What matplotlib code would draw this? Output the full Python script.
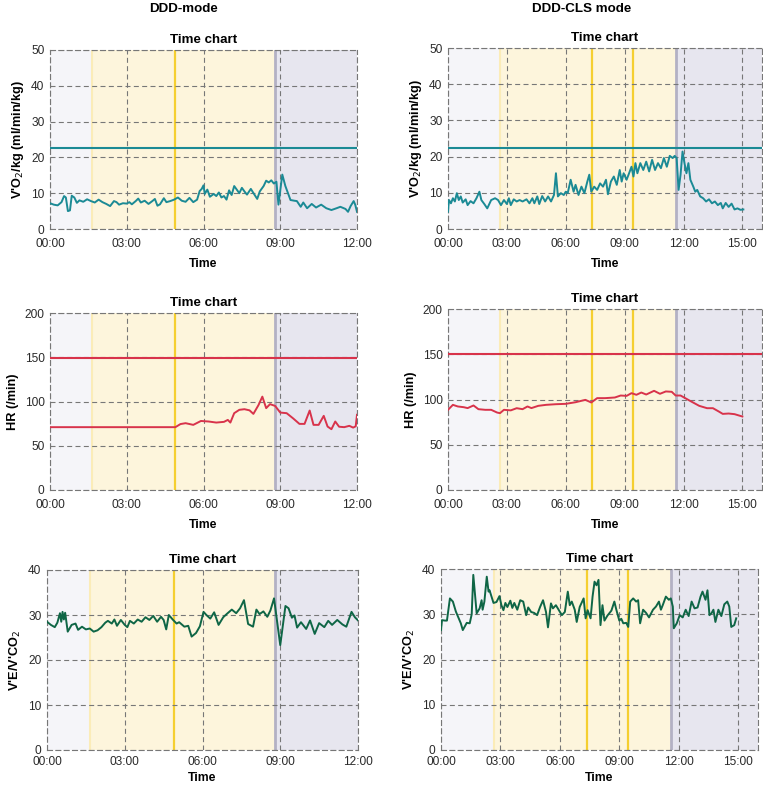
import matplotlib.pyplot as plt

plt.rcParams['font.family'] = ['Liberation Sans', 'DejaVu Sans']

# ---- data (time in minutes) ----
# DDD-mode
vo2_l_t = [0.0, 0.15, 0.3, 0.45, 0.55, 0.62, 0.7, 0.78, 0.85, 0.95, 1.05, 1.15, 1.3, 1.45, 1.6, 1.75,
           1.9, 2.05, 2.2, 2.35, 2.5, 2.6, 2.7, 2.85, 3.0, 3.1, 3.2, 3.35, 3.45, 3.55, 3.7, 3.85, 4.0,
           4.1, 4.2, 4.3, 4.45, 4.55, 4.7, 4.85, 5.0, 5.15, 5.3, 5.45, 5.6, 5.75, 5.85, 5.93, 6.0,
           6.05, 6.15, 6.25, 6.4, 6.5, 6.6, 6.7, 6.8, 6.9, 7.0, 7.1, 7.2, 7.3, 7.4, 7.5, 7.6, 7.7,
           7.85, 8.0, 8.1, 8.2, 8.35, 8.45, 8.55, 8.65, 8.75, 8.85, 8.93, 9.08, 9.2, 9.4, 9.55, 9.65,
           9.8, 9.9, 10.05, 10.23, 10.4, 10.6, 10.8, 11.0, 11.2, 11.35, 11.55, 11.65, 11.75, 11.87,
           11.93, 12.0]
vo2_l_v = [7.2, 6.8, 6.6, 7.5, 9.2, 8.8, 5.0, 5.2, 9.3, 8.8, 7.3, 8.0, 7.6, 8.3, 7.8, 7.4,
           8.2, 7.5, 7.0, 6.4, 7.8, 7.5, 6.8, 7.2, 7.1, 7.5, 6.9, 7.8, 8.5, 7.4, 7.9, 7.0, 7.8,
           8.4, 6.5, 6.9, 8.6, 7.5, 7.8, 8.2, 8.8, 7.9, 7.6, 8.7, 7.5, 8.2, 10.6, 11.2, 12.2,
           9.8, 11.0, 9.0, 9.8, 9.2, 10.2, 8.8, 9.2, 8.2, 10.8, 9.5, 12.0, 11.0, 10.0, 11.5, 10.5, 9.6,
           11.2, 9.5, 8.4, 10.5, 12.0, 13.5, 13.0, 13.6, 12.7, 13.2, 6.8, 15.2, 12.0, 8.1, 7.9, 7.8,
           6.2, 7.4, 5.8, 7.0, 6.0, 6.8, 5.8, 5.3, 5.8, 6.2, 5.6, 4.8, 6.4, 7.8,
           6.8, 4.8]

hr_l_t = [0.0, 4.9, 5.1, 5.3, 5.6, 5.9, 6.2, 6.5, 6.8, 6.95, 7.05, 7.2, 7.4, 7.6, 7.8, 7.95, 8.15,
          8.3, 8.45, 8.6, 8.8, 9.0, 9.25, 9.5, 9.75, 9.95, 10.15, 10.3, 10.5, 10.7, 10.85, 11.0,
          11.15, 11.3, 11.5, 11.7, 11.85, 11.95, 12.0]
hr_l_v = [71, 71, 74.5, 75.5, 73.6, 78, 77.4, 76.2, 77, 79.2, 76.2, 86.8, 90.6, 91.3, 90, 86, 96,
          105.5, 92.5, 97, 95, 87.5, 86.8, 81, 74.7, 74.7, 89.8, 73.6, 73.6, 83.8, 71.7, 68.7,
          77.4, 71.5, 71, 72.5, 70.5, 72, 85]

ve_l_t = [0.0, 0.15, 0.3, 0.4, 0.5, 0.55, 0.6, 0.65, 0.7, 0.8, 0.95, 1.1, 1.2, 1.35, 1.5, 1.65, 1.8,
          1.95, 2.1, 2.25, 2.35, 2.5, 2.6, 2.7, 2.85, 3.0, 3.1, 3.2, 3.35, 3.5, 3.65, 3.8, 3.95, 4.1,
          4.25, 4.4, 4.5, 4.6, 4.7, 4.85, 5.0, 5.1, 5.3, 5.45, 5.58, 5.75, 5.9, 6.04, 6.15, 6.3,
          6.45, 6.62, 6.8, 6.95, 7.13, 7.3, 7.45, 7.6, 7.76, 7.95, 8.08, 8.2, 8.35, 8.5, 8.62, 8.76,
          9.0, 9.2, 9.32, 9.45, 9.55, 9.65, 9.8, 10.0, 10.15, 10.33, 10.5, 10.7, 10.85, 11.0, 11.2,
          11.4, 11.55, 11.75, 11.88, 12.0]
ve_l_v = [28.5, 27.8, 27.3, 28.3, 30.4, 28.5, 30.7, 29.0, 30.5, 26.3, 27.8, 28.1, 26.7, 27.4, 26.8,
          27.0, 26.3, 26.6, 27.3, 28.3, 28.7, 28.1, 29.0, 27.6, 28.9, 27.8, 27.3, 28.7, 28.1, 29.0,
          28.5, 29.5, 28.9, 29.8, 28.5, 29.6, 28.9, 26.8, 30.0, 29.0, 28.1, 28.4, 27.4, 27.6, 25.2,
          26.0, 27.5, 30.7, 30.0, 29.2, 30.6, 27.8, 29.5, 30.3, 31.2, 30.4, 31.5, 33.3, 28.0, 27.4,
          31.2, 30.2, 30.8, 29.6, 31.0, 33.7, 23.3, 32.0, 31.5, 29.4, 29.9, 27.2, 28.4, 26.9, 28.8,
          25.8, 28.2, 27.3, 28.7, 27.8, 28.9, 27.9, 27.4, 30.7, 29.5, 28.8]

# DDD-CLS mode
vo2_r_t = [0.0, 0.05, 0.15, 0.25, 0.35, 0.45, 0.55, 0.65, 0.75, 0.9, 1.0, 1.15, 1.3, 1.45, 1.6,
           1.7, 1.85, 2.0, 2.2, 2.4, 2.55, 2.7, 2.85, 3.0, 3.1, 3.2, 3.35, 3.5, 3.65, 3.8, 4.0,
           4.15, 4.3, 4.4, 4.55, 4.65, 4.8, 4.95, 5.1, 5.25, 5.4, 5.5, 5.6, 5.75, 5.9, 6.0, 6.1,
           6.25, 6.4, 6.5, 6.65, 6.8, 6.95, 7.1, 7.2, 7.3, 7.45, 7.6, 7.75, 7.9, 8.05, 8.15, 8.3,
           8.45, 8.6, 8.75, 8.85, 8.95, 9.1, 9.2, 9.35, 9.45, 9.55, 9.65, 9.8, 9.95, 10.1, 10.25,
           10.4, 10.55, 10.7, 10.85, 11.0, 11.15, 11.3, 11.45, 11.55, 11.65, 11.75, 11.85, 11.95,
           12.05, 12.15, 12.25, 12.35, 12.5, 12.6, 12.7, 12.85, 13.0, 13.15, 13.3, 13.45, 13.6,
           13.75, 13.9, 14.0, 14.15, 14.3, 14.45, 14.6, 14.75, 14.9, 15.05]
vo2_r_v = [4.8, 8.0, 7.1, 8.5, 7.6, 9.9, 8.0, 9.0, 7.3, 8.2, 6.6, 7.7, 7.1, 8.5, 10.3,
           8.0, 6.9, 5.7, 8.0, 8.5, 8.0, 6.6, 8.0, 6.9, 8.5, 6.6, 8.2, 7.6, 8.0, 7.6, 8.2,
           7.1, 8.5, 7.1, 9.0, 6.9, 9.1, 7.6, 9.0, 7.6, 9.4, 15.4, 9.0, 9.9, 9.4, 10.3, 9.9,
           13.6, 10.3, 12.2, 9.4, 11.7, 9.9, 13.1, 15.0, 10.3, 11.7, 10.8, 12.6, 11.7, 13.6, 9.6, 13.1,
           14.5, 12.2, 16.3, 13.1, 15.4, 13.6, 15.0, 17.2, 14.5, 18.2, 15.4, 18.2, 16.3, 18.6, 15.9,
           19.1, 16.3, 18.2, 16.8, 19.6, 17.2, 20.2, 19.6, 20.2, 19.6, 10.8, 15.0,
           21.4, 18.2, 15.4, 18.2, 13.6, 11.7, 10.3, 10.8, 9.0, 8.5, 7.6, 8.2, 7.1, 7.6,
           6.6, 7.2, 5.7, 7.2, 6.1, 7.0, 5.4, 5.7, 5.3, 5.4]

hr_r_t = [0.0, 0.25, 0.5, 0.8, 1.0, 1.3, 1.55, 1.9, 2.2, 2.5, 2.65, 2.85, 3.2, 3.5, 3.8, 4.05, 4.25,
          4.6, 5.0, 5.5, 6.0, 6.5, 7.0, 7.3, 7.6, 8.0, 8.5, 8.8, 9.1, 9.35, 9.6, 9.85, 10.1, 10.5,
          10.8, 11.1, 11.4, 11.6, 11.85, 12.3, 12.8, 13.2, 13.5, 13.8, 14.0, 14.3, 14.6, 15.0]
hr_r_v = [88.6, 94.1, 92.3, 91.5, 90.5, 93.4, 89.3, 88.6, 88.6, 85.6, 84.9, 88.6, 88.0, 90.4, 89.3,
          92.3, 90.5, 93.0, 94.1, 94.8, 95.2, 97.0, 99.6, 96.7, 101.5, 101.5, 102.2, 104.4, 104.0,
          107.0, 105.2, 107.7, 105.5, 109.6, 106.3, 108.9, 108.5, 104.4, 104.4, 98.9, 93.0, 90.4,
          90.4, 86.7, 84.1, 84.5, 83.8, 81.2]

ve_r_t = [0.0, 0.05, 0.2, 0.3, 0.45, 0.6, 0.75, 1.0, 1.1, 1.3, 1.45, 1.55, 1.63, 1.8, 1.95, 2.05,
          2.1, 2.19, 2.31, 2.4, 2.45, 2.55, 2.65, 2.8, 2.95, 3.05, 3.15, 3.25, 3.35, 3.5, 3.6, 3.7,
          3.85, 4.0, 4.15, 4.3, 4.4, 4.55, 4.7, 4.85, 5.0, 5.15, 5.3, 5.4, 5.55, 5.65, 5.8, 5.95,
          6.1, 6.25, 6.4, 6.5, 6.6, 6.75, 6.85, 7.0, 7.2, 7.3, 7.4, 7.55, 7.65, 7.75, 7.85, 7.95,
          8.05, 8.15, 8.25, 8.4, 8.6, 8.75, 8.85, 9.0, 9.1, 9.2, 9.35, 9.45, 9.55, 9.7, 9.85, 9.95,
          10.05, 10.2, 10.35, 10.5, 10.7, 10.85, 11.0, 11.1, 11.2, 11.35, 11.5, 11.6, 11.7, 11.75,
          11.9, 12.05, 12.2, 12.35, 12.5, 12.65, 12.8, 12.95, 13.1, 13.2, 13.35, 13.45, 13.55,
          13.65, 13.75, 13.85, 14.0, 14.15, 14.3, 14.45, 14.55, 14.65, 14.8, 14.9]
ve_r_v = [26.5, 28.7, 28.6, 28.6, 33.5, 32.8, 30.6, 28.0, 26.5, 28.1, 28.0, 30.0, 38.7, 30.2, 31.3,
          33.1, 31.0, 32.8, 38.3, 35.0, 35.3, 33.9, 32.5, 32.7, 34.0, 32.0, 30.9, 32.5, 31.6, 33.0,
          31.4, 32.5, 31.0, 33.1, 32.8, 29.8, 31.5, 30.5, 30.3, 29.8, 31.6, 33.1, 30.5, 27.1, 32.4,
          31.3, 32.0, 30.9, 29.8, 30.5, 35.0, 32.0, 32.8, 31.0, 28.3, 31.6, 33.5, 29.1, 30.9, 29.1,
          33.9, 37.2, 36.4, 37.6, 27.6, 32.0, 28.6, 29.7, 30.8, 32.8, 31.0, 28.6, 29.0, 28.0, 28.1,
          27.2, 32.8, 33.5, 32.8, 33.1, 28.0, 31.0, 30.3, 29.3, 31.0, 31.7, 32.8, 31.0, 32.1, 33.9,
          33.2, 33.5, 31.7, 26.9, 28.0, 29.8, 29.3, 31.0, 29.6, 32.8, 31.3, 31.5, 33.9, 35.0, 33.2,
          35.3, 29.8, 30.2, 31.0, 28.3, 31.0, 29.6, 32.2, 32.8, 31.7, 27.2, 27.6, 29.1]

# phase markers (minutes)
left_phase = dict(warm=1.65, marks=[4.9], rec=8.8, xmax=12)
right_phase = dict(warm=2.65, marks=[7.35, 9.45], rec=11.62, xmax=16)

vo2_threshold = 22.5
hr_threshold = 149

teal = '#1b8a95'
red = '#d8334b'
green = '#0f6646'

W, H = 763, 789
fig = plt.figure(figsize=(W / 100, H / 100), dpi=100)


def make_ax(x0, y0, x1, y1):
    return fig.add_axes([x0 / W, 1 - y1 / H, (x1 - x0) / W, (y1 - y0) / H])


def style(ax, ph, ymax, ystep, ylabel, xpad=6.5, lpad=6):
    ax.axvspan(0, ph['warm'], color='#f5f5f9', lw=0, zorder=0)
    ax.axvspan(ph['warm'], ph['rec'], color='#fdf5dc', lw=0, zorder=0)
    ax.axvspan(ph['rec'], ph['xmax'], color='#e7e6ef', lw=0, zorder=0)
    ax.axvline(ph['warm'], color='#fbecb8', lw=1.5, zorder=1)
    for m in ph['marks']:
        ax.axvline(m, color='#f5cf30', lw=1.6, zorder=1)
    ax.axvline(ph['rec'], color='#b3b1c4', lw=2, zorder=1)
    ax.set_xlim(0, ph['xmax'])
    ax.set_ylim(0, ymax)
    xt = list(range(0, ph['xmax'] + 1, 3))
    ax.set_xticks(xt)
    ax.set_xticklabels([f'{m:02d}:00' for m in xt])
    ax.set_yticks(range(0, ymax + 1, ystep))
    ax.grid(True, color='#777777', ls=(0, (4.5, 3)), lw=0.8)
    ax.set_axisbelow(False)
    for s in ax.spines.values():
        s.set_linestyle((0, (4.5, 3)))
        s.set_color('#777777')
        s.set_linewidth(0.8)
    ax.tick_params(length=0, labelsize=8.6, colors='#2a2a2a')
    ax.tick_params(axis='x', pad=xpad)
    ax.tick_params(axis='y', pad=4)
    ax.set_title('Time chart', fontsize=9.6, fontweight='bold', pad=5)
    ax.set_xlabel('Time', fontsize=8.8, fontweight='bold', labelpad=lpad)
    ax.set_ylabel(ylabel, fontsize=9.2, fontweight='bold', labelpad=4)


vo2_label = "V'O$_2$/kg (ml/min/kg)"
ve_label = "V'E/V'CO$_2$"

ax = make_ax(50, 50, 357, 229)
style(ax, left_phase, 50, 10, vo2_label)
ax.axhline(vo2_threshold, color=teal, lw=1.5, zorder=3)
ax.plot(vo2_l_t, vo2_l_v, color=teal, lw=1.4, zorder=3)

ax = make_ax(448, 48, 762, 229)
style(ax, right_phase, 50, 10, vo2_label)
ax.axhline(vo2_threshold, color=teal, lw=1.5, zorder=3)
ax.plot(vo2_r_t, vo2_r_v, color=teal, lw=1.4, zorder=3)

ax = make_ax(50, 313, 357, 490)
style(ax, left_phase, 200, 50, 'HR (/min)')
ax.axhline(hr_threshold, color=red, lw=1.5, zorder=3)
ax.plot(hr_l_t, hr_l_v, color=red, lw=1.4, zorder=3)

ax = make_ax(448, 309, 762, 490)
style(ax, right_phase, 200, 50, 'HR (/min)')
ax.axhline(150, color=red, lw=1.5, zorder=3)
ax.plot(hr_r_t, hr_r_v, color=red, lw=1.4, zorder=3)

ax = make_ax(47, 570, 358, 750)
style(ax, left_phase, 40, 10, ve_label, xpad=4.5, lpad=3)
ax.plot(ve_l_t, ve_l_v, color=green, lw=1.4, zorder=3)

ax = make_ax(441, 569, 758, 750)
style(ax, right_phase, 40, 10, ve_label, xpad=4.5, lpad=3)
ax.plot(ve_r_t, ve_r_v, color=green, lw=1.4, zorder=3)

fig.text(183 / W, 1 - 9 / H, 'DDD-mode', ha='center', va='center', fontsize=9.6, fontweight='bold')
fig.text(582 / W, 1 - 9 / H, 'DDD-CLS mode', ha='center', va='center', fontsize=9.6, fontweight='bold')

fig.savefig('out.png', dpi=100)
